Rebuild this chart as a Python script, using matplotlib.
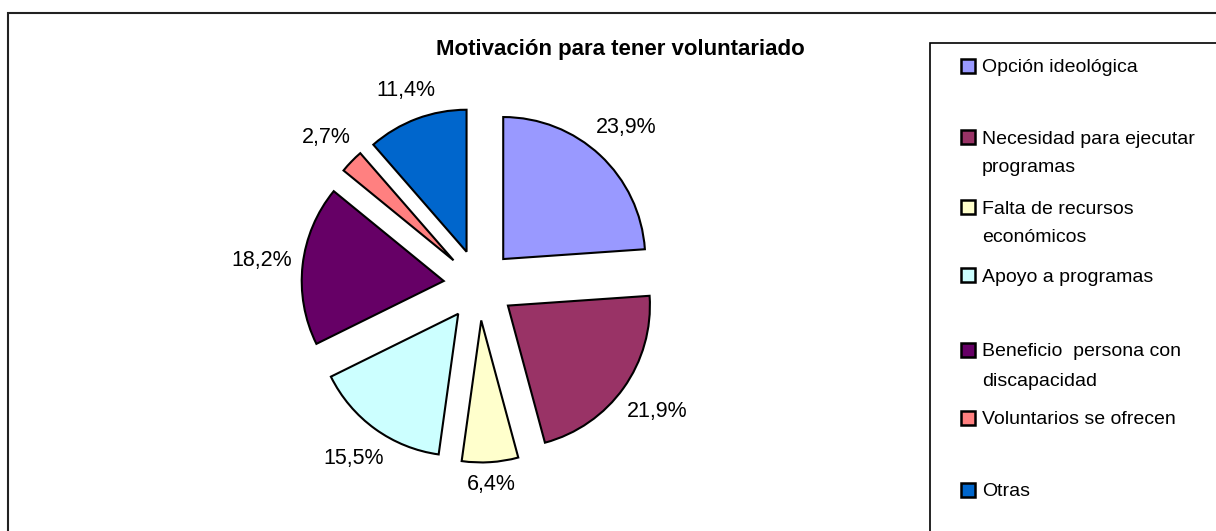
import matplotlib
matplotlib.use("Agg")
import numpy as np
import matplotlib.pyplot as plt
from matplotlib.patches import Rectangle

plt.rcParams['font.family'] = ['Liberation Sans', 'DejaVu Sans']

title = "Motivación para tener voluntariado"
categories = [
    "Opción ideológica",
    "Necesidad para ejecutar\nprogramas",
    "Falta de recursos\neconómicos",
    "Apoyo a programas",
    "Beneficio  persona con\ndiscapacidad",
    "Voluntarios se ofrecen",
    "Otras",
]
values = [23.9, 21.9, 6.4, 15.5, 18.2, 2.7, 11.4]
colors = ["#9999FF", "#993366", "#FFFFCC", "#CCFFFF", "#660066", "#FF8080", "#0066CC"]

W, H = 1216, 531
fig = plt.figure(figsize=(W / 100, H / 100), dpi=100)

# pie geometry in pixels
cx, cy, rpx = 479, 285, 142
L = 1.6
half = L * rpx
ax = fig.add_axes([(cx - half) / W, (H - cy - half) / H, 2 * half / W, 2 * half / H])

wedges, texts, autotexts = ax.pie(
    values,
    colors=colors,
    startangle=90,
    counterclock=False,
    explode=[0.25] * len(values),
    autopct=lambda p: f"{p:.1f}%".replace(".", ","),
    pctdistance=1.25,
    wedgeprops=dict(edgecolor="black", linewidth=1.5),
    textprops=dict(fontsize=15.5, color="black"),
)
ax.set_xlim(-L, L)
ax.set_ylim(-L, L)
ax.set_aspect('equal')
ax.axis('off')

# place labels so that their box sits just outside each wedge (Excel-like)
fig.canvas.draw()
renderer = fig.canvas.get_renderer()
gap = 1.07
for w, t in zip(wedges, autotexts):
    th = np.deg2rad((w.theta1 + w.theta2) / 2)
    ux, uy = np.cos(th), np.sin(th)
    bb = t.get_window_extent(renderer)
    hw, hh = bb.width / 2 / rpx, bb.height / 2 / rpx
    d = gap + abs(ux) * hw + abs(uy) * hh
    x0, y0 = w.center
    t.set_position((x0 + d * ux, y0 + d * uy))
    t.set_ha("center")
    t.set_va("center")

# outer frame and legend frame
fig.patches.append(Rectangle((8 / W, -0.1), 1.2, (H - 13) / H + 0.1, transform=fig.transFigure,
                             fill=False, edgecolor="#222222", linewidth=1.5))
fig.patches.append(Rectangle((930 / W, -0.1), 1.2, (H - 43) / H + 0.1, transform=fig.transFigure,
                             fill=False, edgecolor="black", linewidth=1.2))

fig.text(620 / W, 1 - 49 / H, title, ha="center", va="center", fontsize=16, fontweight="bold")

# legend entries
row_y = [66, 137, 207, 275, 350, 418, 490]
line_gap = 29
for lab, col, yy in zip(categories, colors, row_y):
    fig.patches.append(Rectangle((961 / W, 1 - (yy + 7) / H), 14 / W, 14 / H,
                                 transform=fig.transFigure, facecolor=col,
                                 edgecolor="black", linewidth=1.8))
    for k, line in enumerate(lab.split("\n")):
        fig.text(982 / W, 1 - (yy + k * line_gap) / H, line, ha="left", va="center_baseline",
                 fontsize=14)

fig.savefig("out.png", dpi=100)
